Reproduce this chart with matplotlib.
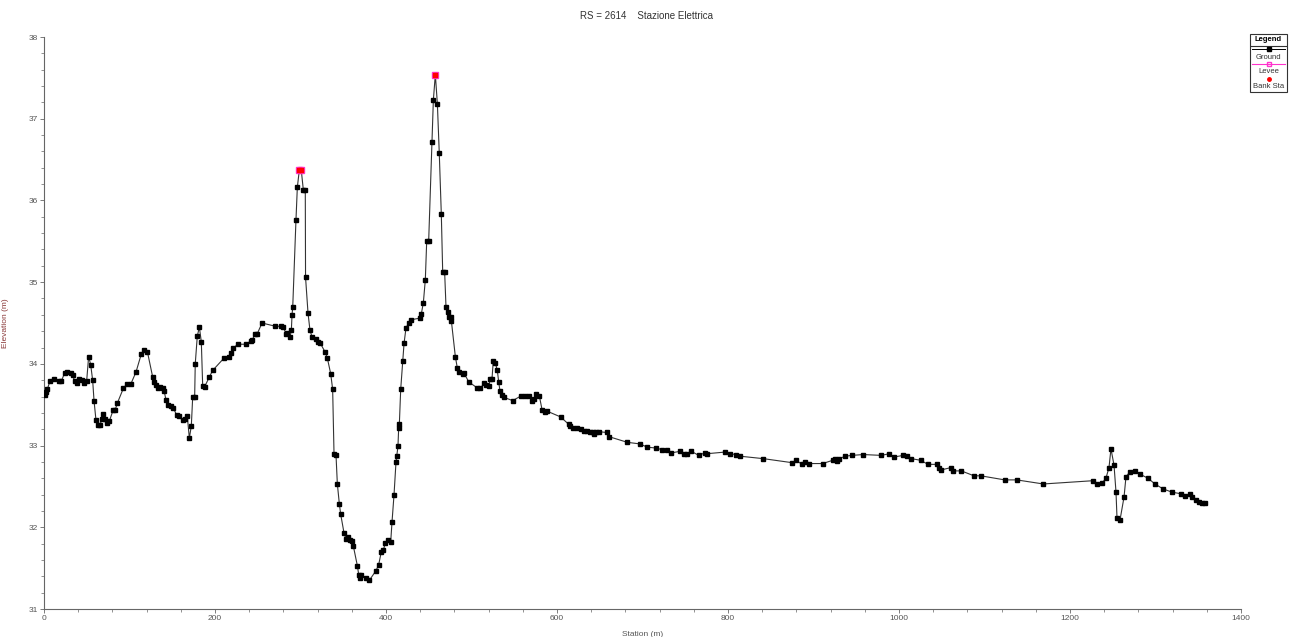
import matplotlib
matplotlib.use("Agg")
import matplotlib.pyplot as plt
from matplotlib.lines import Line2D
from matplotlib.patches import Rectangle
from matplotlib.ticker import MultipleLocator

plt.rcParams['font.family'] = ['Liberation Sans', 'DejaVu Sans']

title = "RS = 2614    Stazione Elettrica"

station = [0.8, 2.3, 3.9, 7.0, 11.7, 17.9, 20.3, 24.2, 27.3, 31.2, 33.5, 35.9, 38.2, 41.3, 44.4,
           46.8, 49.9, 52.2, 54.6, 56.9, 58.5, 60.8, 63.2, 65.5, 67.8, 69.4, 71.0, 74.1, 76.4,
           81.1, 83.4, 85.8, 92.8, 96.7, 101.4, 107.6, 113.8, 117.0, 120.9, 127.1, 128.7, 131.0,
           133.3, 135.7, 138.8, 140.4, 142.7, 145.0, 148.2, 151.3, 155.2, 157.5, 162.2, 165.3,
           167.6, 170.0, 172.3, 173.9, 176.2, 176.9, 179.3, 181.7, 184.0, 185.6, 187.9, 193.4,
           197.3, 210.5, 216.7, 218.3, 220.7, 226.9, 236.3, 241.7, 243.3, 247.2, 249.5, 255.0,
           270.6, 276.8, 279.9, 283.0, 284.6, 287.7, 289.3, 290.1, 290.9, 294.7, 296.3, 298.6,
           300.9, 303.3, 305.6, 305.9, 308.8, 311.1, 313.5, 318.1, 320.5, 322.8, 329.0, 331.4,
           335.3, 337.6, 339.2, 341.5, 343.1, 345.4, 347.0, 350.9, 353.2, 355.6, 357.9, 360.2,
           361.8, 366.5, 368.1, 369.6, 371.2, 376.6, 380.5, 388.3, 391.4, 394.5, 396.9, 399.2,
           402.3, 405.5, 407.0, 409.4, 411.7, 412.5, 414.0, 414.8, 415.6, 417.2, 419.5, 421.1,
           423.4, 426.5, 429.6, 439.8, 441.3, 443.7, 446.0, 447.6, 449.9, 453.8, 455.4, 457.7,
           460.1, 462.3, 464.7, 466.3, 468.6, 470.2, 472.5, 473.3, 475.7, 476.4, 481.1, 483.4,
           485.8, 490.4, 491.2, 496.7, 506.1, 510.5, 514.4, 517.5, 520.7, 521.6, 524.0, 525.5,
           527.9, 530.2, 531.8, 533.3, 535.7, 538.0, 548.2, 558.3, 563.0, 566.9, 570.8, 573.1,
           575.4, 579.3, 582.5, 585.6, 588.7, 604.3, 613.7, 615.2, 619.1, 623.8, 627.7, 631.6,
           634.7, 638.6, 641.7, 643.3, 645.6, 648.8, 658.1, 660.5, 682.2, 697.1, 705.6, 715.8,
           722.8, 728.3, 733.7, 743.9, 748.5, 752.4, 757.1, 765.7, 772.7, 775.0, 796.1, 802.3,
           809.4, 814.0, 841.3, 875.4, 880.1, 886.3, 890.2, 894.9, 910.7, 922.5, 924.8, 927.9,
           930.2, 937.2, 945.0, 958.3, 979.3, 988.7, 994.2, 1005.0, 1009.7, 1014.4, 1025.3,
           1033.9, 1044.1, 1047.1, 1048.7, 1060.5, 1063.5, 1072.9, 1087.7, 1095.6, 1123.6,
           1137.7, 1168.8, 1226.9, 1231.6, 1237.4, 1242.0, 1245.6, 1247.9, 1251.5, 1253.8,
           1255.0, 1258.5, 1263.2, 1265.5, 1270.2, 1276.0, 1281.9, 1291.2, 1299.4, 1308.8,
           1319.3, 1329.8, 1334.5, 1340.4, 1342.7, 1347.4, 1350.9, 1354.0, 1357.9]

elevation = [33.62, 33.66, 33.69, 33.79, 33.81, 33.79, 33.79, 33.89, 33.90, 33.89, 33.86, 33.79,
             33.77, 33.82, 33.80, 33.77, 33.79, 34.09, 33.99, 33.80, 33.55, 33.31, 33.25, 33.25,
             33.33, 33.39, 33.32, 33.28, 33.30, 33.44, 33.44, 33.52, 33.70, 33.75, 33.75, 33.90,
             34.12, 34.17, 34.15, 33.84, 33.78, 33.74, 33.70, 33.72, 33.71, 33.67, 33.56, 33.50,
             33.48, 33.46, 33.37, 33.36, 33.31, 33.33, 33.36, 33.09, 33.24, 33.59, 33.59, 34.00,
             34.34, 34.45, 34.27, 33.73, 33.72, 33.84, 33.92, 34.07, 34.09, 34.13, 34.19, 34.24,
             34.24, 34.28, 34.29, 34.37, 34.37, 34.50, 34.46, 34.46, 34.45, 34.37, 34.38, 34.33,
             34.41, 34.60, 34.69, 35.76, 36.16, 36.37, 36.37, 36.13, 36.13, 35.06, 34.62, 34.41,
             34.33, 34.30, 34.27, 34.26, 34.14, 34.07, 33.88, 33.69, 32.90, 32.89, 32.53, 32.29,
             32.16, 31.93, 31.86, 31.88, 31.85, 31.83, 31.77, 31.53, 31.42, 31.38, 31.42, 31.38,
             31.35, 31.47, 31.54, 31.70, 31.72, 31.81, 31.84, 31.82, 32.06, 32.40, 32.80, 32.87,
             32.99, 33.21, 33.26, 33.69, 34.03, 34.25, 34.44, 34.50, 34.54, 34.56, 34.61, 34.75,
             35.03, 35.50, 35.50, 36.71, 37.23, 37.54, 37.18, 36.58, 35.83, 35.13, 35.12, 34.69,
             34.64, 34.57, 34.57, 34.53, 34.09, 33.95, 33.90, 33.88, 33.89, 33.78, 33.71, 33.70,
             33.76, 33.74, 33.73, 33.82, 33.82, 34.04, 34.01, 33.92, 33.78, 33.67, 33.62, 33.59,
             33.55, 33.61, 33.61, 33.61, 33.55, 33.57, 33.63, 33.61, 33.44, 33.41, 33.42, 33.35,
             33.26, 33.24, 33.22, 33.22, 33.20, 33.18, 33.18, 33.17, 33.17, 33.14, 33.16, 33.17,
             33.16, 33.11, 33.04, 33.02, 32.98, 32.97, 32.95, 32.95, 32.91, 32.93, 32.90, 32.90,
             32.93, 32.88, 32.91, 32.90, 32.92, 32.90, 32.89, 32.87, 32.84, 32.79, 32.82, 32.77,
             32.80, 32.78, 32.78, 32.82, 32.83, 32.81, 32.84, 32.87, 32.88, 32.89, 32.88, 32.90,
             32.86, 32.88, 32.87, 32.84, 32.82, 32.77, 32.77, 32.72, 32.70, 32.73, 32.69, 32.69,
             32.63, 32.63, 32.58, 32.58, 32.53, 32.57, 32.53, 32.54, 32.60, 32.73, 32.96, 32.76,
             32.43, 32.11, 32.09, 32.37, 32.62, 32.68, 32.69, 32.65, 32.60, 32.53, 32.47, 32.43,
             32.41, 32.38, 32.41, 32.37, 32.33, 32.31, 32.30, 32.30]

levee_sta = [298.6, 300.9, 457.7]
levee_elev = [36.37, 36.37, 37.54]
bank_sta = [298.6, 300.9, 457.7]
bank_elev = [36.37, 36.37, 37.54]

fig = plt.figure(figsize=(12.92, 6.37), dpi=100)
ax = fig.add_axes([44 / 1292, 1 - 609 / 637, (1241 - 44) / 1292, (609 - 37) / 637])

ax.plot(station, elevation, color='#333333', lw=0.8, marker='s', ms=2.7,
        mfc='black', mec='black', zorder=3)
ax.plot(levee_sta, levee_elev, ls='none', marker='s', ms=4.5, mfc='none',
        mec='#ff33cc', mew=1.0, zorder=4)
ax.plot(bank_sta, bank_elev, ls='none', marker='s', ms=3, mfc='red', mec='red', zorder=5)

ax.set_xlim(0, 1400)
ax.set_ylim(31, 38)
ax.xaxis.set_major_locator(MultipleLocator(200))
ax.xaxis.set_minor_locator(MultipleLocator(40))
ax.yaxis.set_major_locator(MultipleLocator(1))
ax.yaxis.set_minor_locator(MultipleLocator(0.2))
for s in ['top', 'right']:
    ax.spines[s].set_visible(False)
for s in ['left', 'bottom']:
    ax.spines[s].set_color('#666666')
    ax.spines[s].set_linewidth(0.8)
ax.tick_params(which='major', length=3, width=0.6, color='#666666', labelsize=6,
               labelcolor='#555555', pad=1.5)
ax.tick_params(which='minor', length=2, width=0.5, color='#666666')

ax.set_xlabel("Station (m)", fontsize=6, color='#555555', labelpad=6)
ax.set_ylabel("Elevation (m)", fontsize=6, color='#8b3a3a', labelpad=14)
fig.text(0.5, 1 - 16 / 637, title, ha='center', va='center', fontsize=7, color='#333333')

# legend box
lg = fig.add_axes([1250 / 1292, 1 - 92 / 637, 37 / 1292, 58 / 637])
lg.set_xlim(0, 1)
lg.set_ylim(0, 1)
lg.axis('off')
lg.add_patch(Rectangle((0, 0), 1, 1, fill=False, ec='#333333', lw=0.8,
                       transform=lg.transAxes, clip_on=False))
lg.plot([0, 1], [0.80, 0.80], color='#333333', lw=0.8)
lg.text(0.5, 0.90, "Legend", ha='center', va='center', fontsize=5.5, fontweight='bold')
lg.add_line(Line2D([0.05, 0.95], [0.74, 0.74], color='black', lw=0.7))
lg.add_line(Line2D([0.5], [0.74], color='black', marker='s', ms=2.5, ls='none'))
lg.text(0.5, 0.60, "Ground", ha='center', va='center', fontsize=5.5, color='#333333')
lg.add_line(Line2D([0.05, 0.95], [0.48, 0.48], color='#ff33cc', lw=0.8))
lg.add_line(Line2D([0.5], [0.48], marker='s', ms=3.5, mfc='none', mec='#ff33cc', ls='none'))
lg.text(0.5, 0.35, "Levee", ha='center', va='center', fontsize=5.5, color='#333333')
lg.add_line(Line2D([0.5], [0.23], marker='o', ms=2.5, mfc='red', mec='red', ls='none'))
lg.text(0.5, 0.10, "Bank Sta", ha='center', va='center', fontsize=5.5, color='#333333')

fig.savefig("out.png", dpi=100, facecolor='white')
